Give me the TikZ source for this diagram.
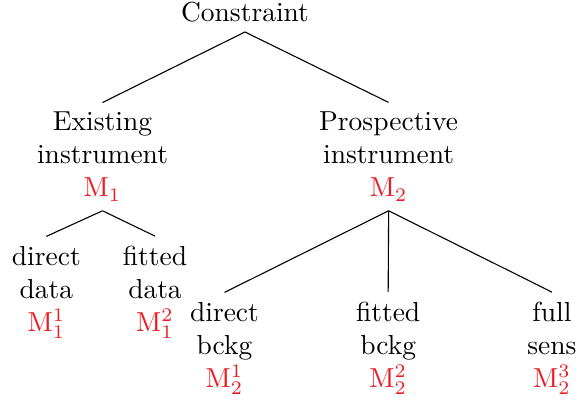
\documentclass[tikz,border=0pt]{standalone}
\usepackage{amsmath}
\usetikzlibrary{positioning, calc}

\definecolor{mred}{RGB}{237,28,36}
\newcommand{\mdl}[1]{\textcolor{mred}{$\mathrm{M}#1$}}

\begin{document}
\begin{tikzpicture}[
    tnode/.style={align=center, anchor=base},
    branch/.style={draw, line width=0.4pt}
  ]
  \useasboundingbox (0,0) rectangle (7.40,-5.175);

  % ---- top level ----
  \node[tnode] (root) at (3.131,-0.277) {Constraint};

  % ---- instruments (base = last line) ----
  \node[tnode] (exist) at (1.310,-2.517) {Existing\\instrument\\\mdl{_1}};
  \node[tnode] (prosp) at (4.967,-2.517) {Prospective\\instrument\\\mdl{_2}};

  % ---- leaves of M1 ----
  \node[tnode] (dd) at (0.592,-4.233) {direct\\data\\\mdl{^1_1}};
  \node[tnode] (fd) at (1.981,-4.233) {fitted\\data\\\mdl{^2_1}};

  % ---- leaves of M2 ----
  \node[tnode] (db) at (2.869,-4.949) {direct\\bckg\\\mdl{^1_2}};
  \node[tnode] (fb) at (4.961,-4.949) {fitted\\bckg\\\mdl{^2_2}};
  \node[tnode] (fs) at (7.054,-4.949) {full\\sens\\\mdl{^3_2}};

  % Ramas
  \draw[branch] (root.south) -- (exist.north);
  \draw[branch] (root.south) -- (prosp.north);
  \draw[branch] (exist.south) -- (dd.north);
  \draw[branch] (exist.south) -- (fd.north);
  \draw[branch] (prosp.south) -- (db.north);
  \draw[branch] (prosp.south) -- (fb.north);
  \draw[branch] (prosp.south) -- (fs.north);
\end{tikzpicture}
\end{document}
